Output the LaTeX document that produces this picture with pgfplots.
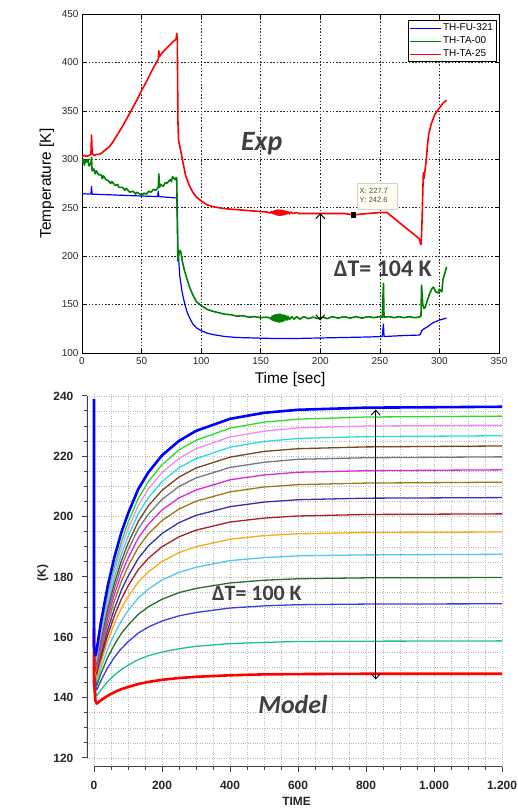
\documentclass[border=0pt]{standalone}
\usepackage{fontspec}
\setmainfont{Liberation Sans}
\newfontfamily\calib{Carlito}
\usepackage{pgfplots}
\usepackage{pgfplotstable}
\pgfplotsset{compat=1.18}
\usetikzlibrary{arrows.meta}

% experiment
\definecolor{eBlue}{RGB}{0,0,255}
\definecolor{eGreen}{RGB}{0,128,0}
\definecolor{eRed}{RGB}{255,0,0}
% model, top to bottom
\definecolor{mBlue}{RGB}{0,0,255}
\definecolor{mGreen}{RGB}{40,220,40}
\definecolor{mPink}{RGB}{240,140,240}
\definecolor{mCyan}{RGB}{40,220,230}
\definecolor{mBrown}{RGB}{120,70,30}
\definecolor{mGray}{RGB}{120,120,120}
\definecolor{mMagenta}{RGB}{220,40,220}
\definecolor{mOlive}{RGB}{160,120,20}
\definecolor{mNavy}{RGB}{50,50,170}
\definecolor{mDarkred}{RGB}{170,30,40}
\definecolor{mOrange}{RGB}{250,170,30}
\definecolor{mLightblue}{RGB}{80,200,235}
\definecolor{mDarkgreen}{RGB}{40,110,40}
\definecolor{mBlueB}{RGB}{60,60,220}
\definecolor{mTeal}{RGB}{30,190,150}
\definecolor{mRed}{RGB}{255,0,0}
\definecolor{annot}{RGB}{64,64,64}

% model temperatures (K) vs time, one column per node
\pgfplotstableread{
t    c1    c2    c3    c4    c5    c6    c7    c8    c9    c10   c11   c12   c13   c14   c15   c16
0    239   157   156   155   154   153.5 153   152   151   150.5 150   149   148   146.5 144.5 163
0    157   157   156   155   154   153.5 153   152   151   150.5 150   149   148   146.5 144.5 145
4    154   155   154   153   152   151.5 151   150   149   148.5 148   147   146   144.5 142.5 139
8    156   153   152   151   150   149.5 149   148   147   146.5 146   145   144   142.5 140.5 138
20   164.8 161.8 160.6 159.3 158.1 157.2 156.3 155.0 153.5 152.5 151.4 149.7 147.9 145.6 142.5 139.1
40   176.9 173.9 172.4 170.7 169.1 167.8 166.3 164.5 162.4 160.6 158.7 156.0 153.3 149.9 145.3 140.6
60   186.6 183.5 181.8 179.8 177.9 176.2 174.3 172.1 169.5 167.2 164.6 161.1 157.6 153.4 147.5 141.8
80   194.6 191.5 189.6 187.4 185.2 183.2 180.9 178.4 175.5 172.6 169.5 165.4 161.2 156.2 149.3 142.8
100  201.0 198.0 195.8 193.4 191.1 188.9 186.2 183.5 180.2 177.0 173.4 168.8 164.0 158.5 150.7 143.5
130  209.1 206.0 203.7 201.0 198.4 195.9 192.9 189.8 186.1 182.4 178.3 173.0 167.6 161.4 152.6 144.5
160  214.7 211.6 209.2 206.3 203.6 200.8 197.5 194.3 190.3 186.2 181.7 176.0 170.1 163.4 153.9 145.2
200  220.3 217.2 214.6 211.6 208.7 205.7 202.2 198.7 194.4 190.0 185.1 179.0 172.6 165.4 155.1 145.9
250  225.1 222.1 219.3 216.2 213.1 210.0 206.2 202.5 198.0 193.3 188.1 181.5 174.8 167.1 156.2 146.5
300  228.4 225.3 222.5 219.2 216.1 212.8 208.8 205.1 200.4 195.5 190.0 183.2 176.2 168.2 157.0 146.9
400  232.4 229.3 226.4 223.0 219.7 216.3 212.2 208.2 203.3 198.2 192.5 185.4 178.0 169.7 157.9 147.4
500  234.4 231.3 228.3 224.9 221.6 218.0 213.8 209.8 204.8 199.5 193.7 186.4 178.9 170.4 158.3 147.7
600  235.4 232.3 229.4 225.9 222.5 219.0 214.7 210.6 205.6 200.2 194.3 187.0 179.4 170.8 158.6 147.8
800  236.1 233.0 230.0 226.5 223.1 219.5 215.2 211.1 206.1 200.7 194.7 187.3 179.7 171.0 158.7 147.9
1200 236.4 233.3 230.3 226.8 223.4 219.8 215.5 211.4 206.3 200.9 194.9 187.5 179.8 171.1 158.8 147.9
}\modeltab

\begin{document}
\begin{tikzpicture}[x=1bp,y=1bp]
\useasboundingbox (0,0) rectangle (518,808);

% ---------- experiment ----------
\begin{axis}[
  at={(82bp,455bp)}, anchor=south west,
  scale only axis, width=417bp, height=339bp,
  xmin=0, xmax=350, ymin=100, ymax=450,
  xtick={0,50,...,350}, ytick={100,150,...,450},
  tick align=inside, major tick length=4bp,
  tick style={black, line width=0.5bp},
  grid=major,
  grid style={black!85, dash pattern=on 1.5bp off 1.8bp, line width=0.6bp},
  axis line style={black, line width=0.7bp},
  /pgf/number format/assume math mode=true,
  ticklabel style={font=\fontsize{10}{12}\selectfont, text=black!85},
  xticklabel style={yshift=-1.5bp},
  xlabel={Time [sec]}, ylabel={Temperature [K]},
  label style={font=\fontsize{15.5}{18}\selectfont},
  xlabel style={at={(axis description cs:0.499,-0.077)}, anchor=center},
  ylabel style={at={(axis description cs:-0.084,0.5)}, anchor=center},
  legend style={at={(0.9945,0.982)}, anchor=north east, draw=black,
    line width=0.6bp, font=\fontsize{10}{12}\selectfont,
    inner sep=1.5bp, row sep=0.5bp},
  legend cell align=left,
  legend image code/.code={\draw[#1, line width=0.7bp] (0bp,0bp) -- (31bp,0bp);},
  line join=round,
]
\addplot[eBlue, line width=1.2bp] coordinates {
(0,264.5) (7.5,264) (8,272) (8.5,264) (20,263.5) (40,262.5) (63.5,261.5) (64,267)
(64.5,261.5) (79.5,260) (80,240) (80.5,205) (81,200) (82,180) (84,163) (86,152)
(88,143) (90,137) (93,130) (96,126) (100,123) (105,120.5) (110,119) (120,117)
(130,116) (145,115.5) (160,115) (180,115) (200,115.5) (220,116) (240,116.5)
(252,117) (253,130) (253.5,117) (270,118) (283,118.5) (284,119) (285,123)
(287,125) (290,127) (293,130) (296,132) (300,134) (303,135) (306,136)};
\addlegendentry{TH-FU-321}
\addplot[eGreen, line width=1.6bp] coordinates {
(0,296) (1,300) (2,294) (3,299) (4,297) (5,300) (6,293) (7.5,296) (8,302) (8.5,288)
(10,290) (11,285) (12,288) (14,284) (16,284) (17,280) (18,283) (20,279) (22,278)
(24,275) (25,277) (28,273) (30,274) (31,271) (34,271) (36,268) (37,270) (40,266)
(43,267) (45,264) (46,266) (50,263) (52,265) (54,264) (56,267) (58,266) (60,269)
(62,268) (64,271) (64.5,285) (65,271) (66,274) (68,272) (70,276) (71,275) (74,279)
(75,277) (76,282) (78,279) (79,281) (79.5,280) (80,240) (80.5,195) (81,200)
(82,206) (83,204) (84,196) (86,185) (88,177) (90,169) (93,160) (96,153) (100,149)
(105,145) (110,143) (115,141.5) (120,140) (125,139.5) (130,138) (135,138.5)
(140,137) (145,137.5) (150,136.5) (155,137) (158,136) (159,134.5) (159.5,138)
(160,134) (160.5,138.5) (161,133.5) (161.5,139) (162,133) (162.5,139.5) (163,132.5)
(163.5,139.5) (164,132.5) (164.5,140) (165,132) (165.5,140) (166,132) (166.5,140)
(167,132.5) (167.5,139.5) (168,132.5) (168.5,139) (169,133) (169.5,139) (170,133.5)
(171,138.5) (172,134) (173,138) (174,134.5) (176,137.5) (178,135) (180,137.5)
(183,135) (186,137.5) (190,135.5) (194,137) (198,135.5) (202,137) (206,135.5)
(210,137.5) (215,136) (220,137.5) (225,136) (230,137.5) (235,136) (240,137.5)
(245,136.5) (250,137.5) (252,137) (253,172) (253.5,137) (258,137.5) (262,136.5)
(266,137.5) (270,136.5) (275,137.5) (279,136.5) (283,137) (284.5,138) (285,170)
(286,150) (287,146) (288,147) (290,155) (292,162) (294,167) (295,168) (297,163)
(299,162) (300,166) (302,163) (303,176) (304,180) (306,189)};
\addlegendentry{TH-TA-00}
\addplot[eRed, line width=1.6bp] coordinates {
(0,303) (2,304) (4,303) (6,304) (7.5,305) (8,325) (8.5,306) (10,304) (12,305)
(14,305) (16,306) (18,308) (20,310) (23,313) (26,318) (30,326) (34,334) (38,343)
(42,352) (46,361) (50,371) (54,380) (58,390) (62,399) (64,403) (64.5,412) (65,406)
(68,411) (72,416) (76,421) (78,423) (79,424) (79.5,430) (80,424) (80.5,340)
(81,320) (83,308) (85,295) (87,283) (90,273) (93,266) (96,261) (100,257) (105,253)
(110,251) (120,249) (130,248) (140,247) (150,246) (155,245.5) (158,244.5)
(159,246) (160,244) (161,246.5) (161.5,243.5) (162,247) (162.5,243) (163,247)
(163.5,242.5) (164,247.5) (164.5,242.5) (165,247.5) (165.5,242) (166,247.5) (166.5,242)
(167,247.5) (167.5,242.5) (168,247) (168.5,242.5) (169,247) (169.5,243) (170,246.5)
(170.5,243) (171,246.5) (172,243.5) (173,246) (174,243.5) (175,245.5) (177,244)
(180,245) (182,244) (190,244) (200,244) (210,244) (220,244) (227.7,242.6)
(240,244) (250,245) (256,245) (260,241) (265,236) (270,231) (275,226) (280,221)
(283,218) (284.5,212) (285,222) (285.5,240) (286,265) (286.5,286) (287,280)
(288,290) (289,300) (290,315) (291,326) (293,336) (296,346) (300,353) (303,358)
(306,361)};
\addlegendentry{TH-TA-25}
\addplot[only marks, mark=square*, mark size=2.3bp, black, forget plot]
  coordinates {(227.7,242.6)};

\node[draw=gray!35, fill=yellow!6, font=\fontsize{7.5}{9}\selectfont,
  text=black!70, align=left, anchor=south west, inner sep=2.5bp,
  text width=35bp, minimum height=26bp] at (axis cs:230.8,248.7)
  {X: 227.7\\Y: 242.6};
\node[font=\calib\bfseries\itshape\fontsize{28}{32}\selectfont, text=annot]
  at (axis cs:150.8,316.5) {Exp};
\node[font=\calib\bfseries\fontsize{24}{28}\selectfont, text=annot]
  at (axis cs:252.4,187.4) {ΔT= 104 K};
\draw[{Straight Barb[length=5bp,width=9bp]}-{Straight Barb[length=5bp,width=9bp]},
  line width=1bp] (axis cs:200,244.5) -- (axis cs:200,133.5);
\end{axis}

% ---------- model ----------
\begin{axis}[
  at={(86.9bp,41bp)}, anchor=south west,
  scale only axis, width=415.1bp, height=374.1bp,
  xmin=-21, xmax=1200, ymin=117, ymax=241,
  axis x line*=bottom, axis y line*=left,
  axis line style={draw=none},
  xtick={0,200,...,1200}, ytick={120,140,...,240},
  minor x tick num=3, minor y tick num=3,
  tick align=outside, major tick length=5bp, minor tick length=3bp,
  tick style={black!75, line width=1bp},
  grid=both,
  grid style={gray!55, dash pattern=on 0.8bp off 1.6bp, line width=0.5bp},
  /pgf/number format/assume math mode=true,
  /pgf/number format/1000 sep={.},
  ticklabel style={font=\bfseries\fontsize{12}{14}\selectfont, text=black!85},
  xticklabel style={yshift=-6bp},
  yticklabel style={xshift=-5bp},
  xlabel={TIME}, ylabel={(K)},
  label style={font=\bfseries\fontsize{12}{14}\selectfont, text=black!85},
  xlabel style={at={(axis description cs:0.505,-0.091)}, anchor=center},
  ylabel style={at={(axis description cs:-0.106,0.519)}, anchor=center},
  line join=round,
]
\addplot[mGreen, line width=1.3bp] table[x=t,y=c2]{\modeltab};
\addplot[mPink, line width=1.3bp] table[x=t,y=c3]{\modeltab};
\addplot[mCyan, line width=1.3bp] table[x=t,y=c4]{\modeltab};
\addplot[mBrown, line width=1.3bp] table[x=t,y=c5]{\modeltab};
\addplot[mGray, line width=1.3bp] table[x=t,y=c6]{\modeltab};
\addplot[mMagenta, line width=1.3bp] table[x=t,y=c7]{\modeltab};
\addplot[mOlive, line width=1.3bp] table[x=t,y=c8]{\modeltab};
\addplot[mNavy, line width=1.3bp] table[x=t,y=c9]{\modeltab};
\addplot[mDarkred, line width=1.3bp] table[x=t,y=c10]{\modeltab};
\addplot[mOrange, line width=1.3bp] table[x=t,y=c11]{\modeltab};
\addplot[mLightblue, line width=1.3bp] table[x=t,y=c12]{\modeltab};
\addplot[mDarkgreen, line width=1.3bp] table[x=t,y=c13]{\modeltab};
\addplot[mBlueB, line width=1.3bp] table[x=t,y=c14]{\modeltab};
\addplot[mTeal, line width=1.3bp] table[x=t,y=c15]{\modeltab};
\addplot[mRed, line width=2.6bp] table[x=t,y=c16]{\modeltab};
\addplot[mBlue, line width=2.6bp] table[x=t,y=c1]{\modeltab};

\draw[black!75, line width=1.2bp] (axis cs:0,117) -- (axis cs:1200,117);
\draw[black!75, line width=1.2bp] (axis cs:-21,120) -- (axis cs:-21,240);
\node[font=\calib\bfseries\itshape\fontsize{26}{30}\selectfont, text=annot]
  at (axis cs:585,137.6) {Model};
\node[font=\calib\bfseries\fontsize{22}{26}\selectfont, text=annot]
  at (axis cs:479,174.6) {ΔT= 100 K};
\draw[{Straight Barb[length=5bp,width=9bp]}-{Straight Barb[length=5bp,width=9bp]},
  line width=0.9bp] (axis cs:828.5,235.5) -- (axis cs:828.5,146);
\end{axis}
\end{tikzpicture}
\end{document}
